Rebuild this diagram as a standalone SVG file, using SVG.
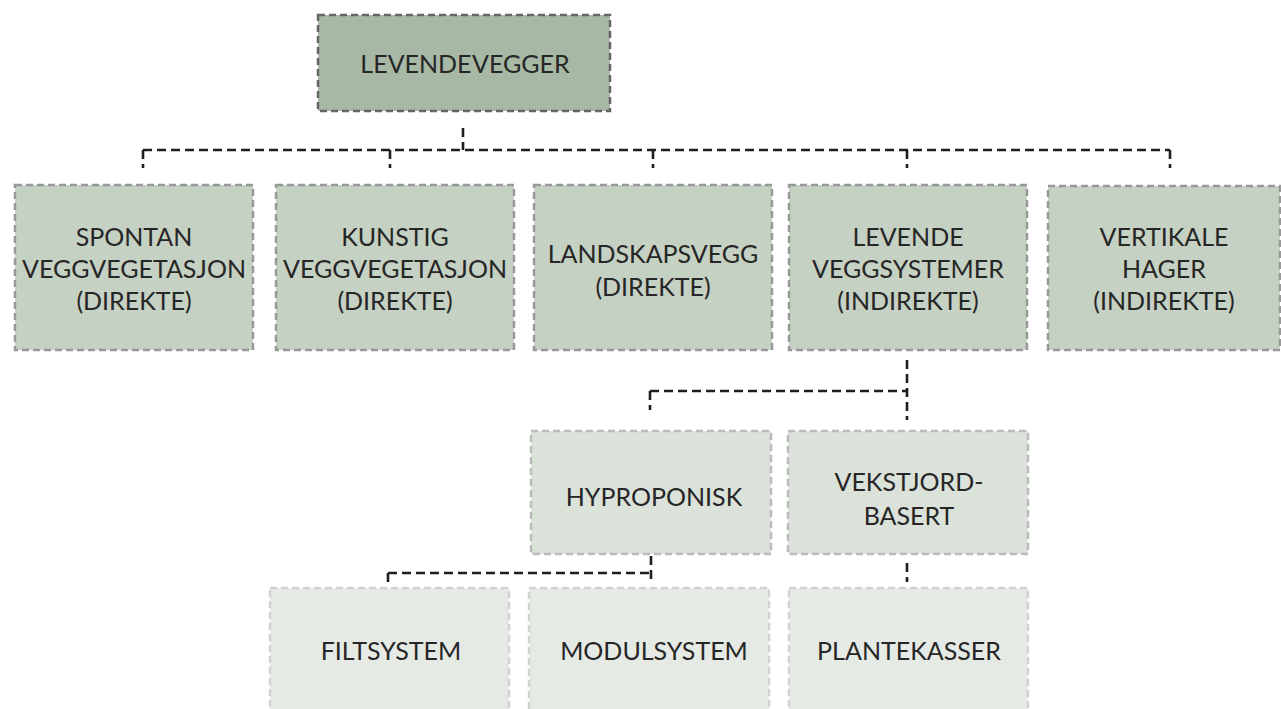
<svg xmlns="http://www.w3.org/2000/svg" width="1281" height="709" viewBox="0 0 1281 709">
<style>
text{font-family:Lato,"Open Sans","Liberation Sans",sans-serif;font-size:25px;fill:#262626;text-anchor:middle}
.b0{fill:#a7b9a5;stroke:#666;stroke-width:2.5;stroke-dasharray:7 4}
.b1{fill:#c5d1c3;stroke:#999;stroke-width:2.5;stroke-dasharray:7 4}
.b2{fill:#dbe2da;stroke:#bbb;stroke-width:2.5;stroke-dasharray:7 4}
.b3{fill:#e6eae5;stroke:#d2d2d2;stroke-width:2.5;stroke-dasharray:7 4}
.c{fill:none;stroke:#1e1e1e;stroke-width:2.6;stroke-dasharray:9 5}
</style>
<rect width="1281" height="709" fill="#fff"/>
<g id="connectors">
<path class="c" d="M463 128V150M143 150H1170M143 150V168M390 150V168M653 150V168M907 150V168M1170 150V168"/>
<path class="c" d="M907 360V420M650 391H907M650 391V410"/>
<path class="c" d="M651 556V580M388 573H651M388 573V582"/>
<path class="c" d="M907 563V582"/>
</g>
<g id="n-levende-vegger"><rect class="b0" x="318" y="15" width="292" height="96"/><text x="465" y="73" style="word-spacing:-5px">LEVENDE VEGGER</text></g>
<g id="n-spontan"><rect class="b1" x="15" y="185" width="238" height="165"/><text x="134" y="246">SPONTAN</text><text x="134" y="278">VEGGVEGETASJON</text><text x="134" y="310">(DIREKTE)</text></g>
<g id="n-kunstig"><rect class="b1" x="276" y="185" width="238" height="165"/><text x="395" y="246">KUNSTIG</text><text x="395" y="278">VEGGVEGETASJON</text><text x="395" y="310">(DIREKTE)</text></g>
<g id="n-landskapsvegg"><rect class="b1" x="534" y="185" width="238" height="165"/><text x="653" y="263">LANDSKAPSVEGG</text><text x="653" y="296">(DIREKTE)</text></g>
<g id="n-levende-veggsystemer"><rect class="b1" x="789" y="185" width="238" height="165"/><text x="908" y="246">LEVENDE</text><text x="908" y="278">VEGGSYSTEMER</text><text x="908" y="310">(INDIREKTE)</text></g>
<g id="n-vertikale-hager"><rect class="b1" x="1048" y="186" width="232" height="164"/><text x="1164" y="246">VERTIKALE</text><text x="1164" y="278">HAGER</text><text x="1164" y="310">(INDIREKTE)</text></g>
<g id="n-hyproponisk"><rect class="b2" x="531" y="431" width="240" height="123"/><text x="654" y="506">HYPROPONISK</text></g>
<g id="n-vekstjord"><rect class="b2" x="788" y="431" width="240" height="123"/><text x="909" y="491">VEKSTJORD-</text><text x="909" y="525">BASERT</text></g>
<g id="n-filtsystem"><rect class="b3" x="270" y="588" width="239" height="123"/><text x="391" y="660">FILTSYSTEM</text></g>
<g id="n-modulsystem"><rect class="b3" x="529" y="588" width="240" height="123"/><text x="654" y="660">MODULSYSTEM</text></g>
<g id="n-plantekasser"><rect class="b3" x="789" y="588" width="239" height="123"/><text x="909" y="660">PLANTEKASSER</text></g>
</svg>
